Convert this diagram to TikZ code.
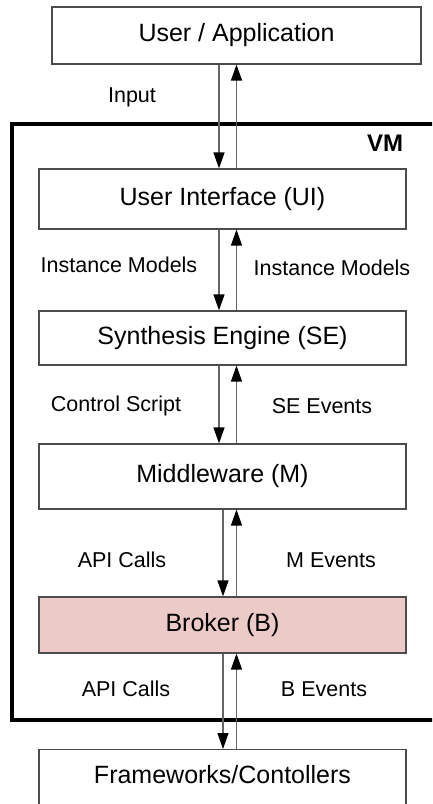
\documentclass[tikz,border=0pt]{standalone}
\usepackage{fontspec}
\setmainfont{Liberation Sans}
\usetikzlibrary{arrows.meta}
\definecolor{brokerpink}{RGB}{235,202,200}

\begin{document}
\begin{tikzpicture}[x=1pt, y=-1pt,
        layer/.style={draw=black!70, line width=1.2pt, minimum width=367pt, inner sep=0pt, font=\fontsize{25}{30}\selectfont},
        flowlabel/.style={inner sep=0pt, font=\fontsize{21.5}{26}\selectfont},
        flow/.style={draw=black!60, line width=1.3pt, -{Triangle[length=16pt, width=11pt, color=black]}}]
            \useasboundingbox (0,0) rectangle (432,804);
            \clip (0,0) rectangle (432,804);

            % VM frame
            \node[draw, line width=3.5pt, inner sep=0pt, minimum width=440pt, minimum height=596pt, anchor=north west] at (10,122) (vm) {};
            \node[font=\bfseries\fontsize{24}{28}\selectfont] at (385,143) (vmlabel) {VM};

            \node[layer, minimum width=369pt, minimum height=57pt] at (236.5,35.5) (user) {User / Application};
            \node[layer, minimum height=60pt] at (222.5,199)   (ui) {User Interface (UI)};
            \node[layer, minimum height=54pt] at (222.5,338)   (se) {Synthesis Engine (SE)};
            \node[layer, minimum height=65pt] at (222.5,476.5) (mw) {Middleware (M)};
            \node[layer, fill=brokerpink, minimum height=56pt] at (222.5,625) (br) {Broker (B)};
            \node[layer, minimum height=70pt, anchor=north] at (222.5,749) (fw) {};
            \node[font=\fontsize{25}{30}\selectfont] at (222.5,775) (fwtext) {Frameworks/Contollers};

            % arrow columns
            \coordinate (dA) at (219,0);
            \coordinate (dB) at (223,0);
            \coordinate (up) at (236.5,0);

            \draw [flow] (user.south -| dA) -- (ui.north -| dA);
            \draw [flow] (ui.north -| up) -- (user.south -| up);
            \draw [flow] (ui.south -| dA) -- (se.north -| dA);
            \draw [flow] (se.north -| up) -- (ui.south -| up);
            \draw [flow] (se.south -| dA) -- (mw.north -| dA);
            \draw [flow] (mw.north -| up) -- (se.south -| up);
            \draw [flow] (mw.south -| dB) -- (br.north -| dB);
            \draw [flow] (br.north -| up) -- (mw.south -| up);
            \draw [flow] (br.south -| dB) -- (fw.north -| dB);
            \draw [flow] (fw.north -| up) -- (br.south -| up);

            \node[flowlabel] at (132,97)  (lin)  {Input};
            \node[flowlabel] at (119,265) (limd) {Instance Models};
            \node[flowlabel] at (332,268) (limu) {Instance Models};
            \node[flowlabel] at (116,406) (lcs)  {Control Script};
            \node[flowlabel] at (322,406) (lse)  {SE Events};
            \node[flowlabel] at (122,560) (lapa) {API Calls};
            \node[flowlabel] at (331,560) (lme)  {M Events};
            \node[flowlabel] at (126,689) (lapb) {API Calls};
            \node[flowlabel] at (324,689) (lbe)  {B Events};
        \end{tikzpicture}
\end{document}
